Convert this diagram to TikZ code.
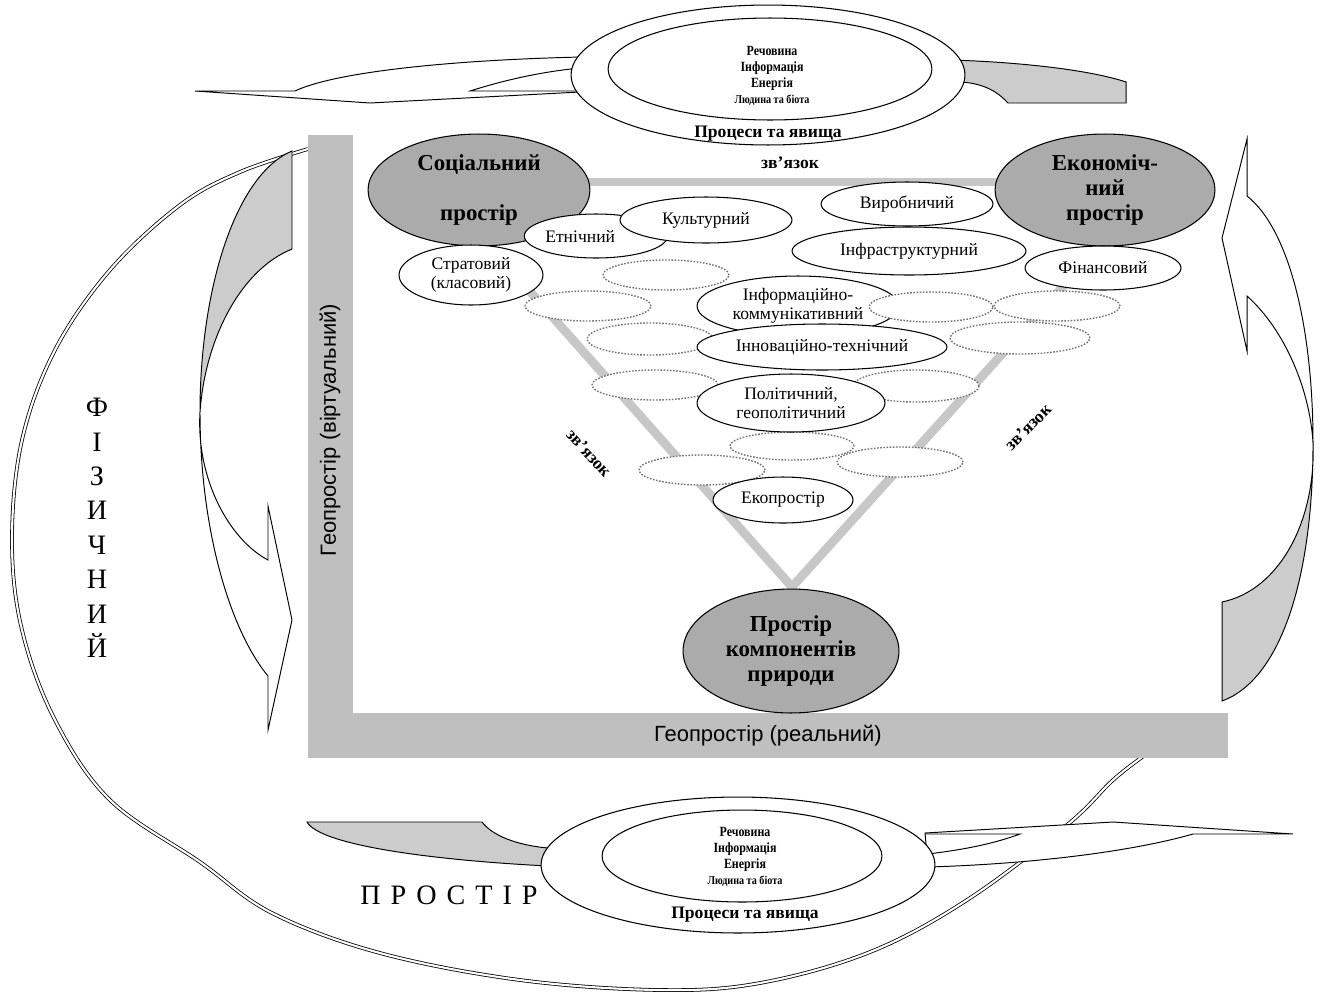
\documentclass[tikz,border=0pt]{standalone}
\usepackage{fontspec}
\setmainfont{Liberation Serif}
\setsansfont{Liberation Sans}
\newfontfamily\condfont[FakeStretch=0.85]{Liberation Serif}
\usetikzlibrary{shapes.geometric}
\newcommand\myfs[2]{\fontsize{#1}{#2}\selectfont}
\tikzset{
  sz/.style 2 args={minimum width=#1*0.04cm, minimum height=#2*0.04cm},
  solidell/.style={ellipse, draw=black, fill=white, line width=0.6pt, inner sep=0pt, align=center, font=\myfs{10}{10.5}},
  dotell/.style={ellipse, draw=black!55, fill=white, line width=0.8pt, dash pattern=on 0.9pt off 0.9pt, inner sep=0pt},
  bigell/.style={ellipse, draw=black, fill=black!33, line width=0.6pt, inner sep=0pt, align=center, font=\bfseries\myfs{13}{14.2}},
  linkline/.style={draw=black!22, line width=5pt},
  geobar/.style={fill=black!25, draw=none},
  arr/.style={draw=black, line width=0.55pt, fill=white},
  arrline/.style={draw=black, line width=0.55pt},
  greyarr/.style={draw=black, line width=0.55pt, fill=black!20},
  bigloop/.style={draw=black, double=white, double distance=1.2pt, line width=0.45pt},
  toptxt/.style={align=center, inner sep=0pt, font=\condfont\bfseries\myfs{8}{9.2}},
  proc/.style={inner sep=0pt, font=\bfseries\myfs{10}{11}},
  link/.style={inner sep=0pt, font=\bfseries\myfs{10}{11}},
  geolbl/.style={inner sep=0pt, font=\sffamily\myfs{12.5}{14}},
  bigletters/.style={inner sep=0pt, align=center, font=\myfs{16}{19.6}},
}
\begin{document}
\begin{tikzpicture}[x=0.02cm, y=-0.02cm]
\useasboundingbox (0,0) rectangle (1324,994);
\fill[white] (0,0) rectangle (1324,994);

% big outer loop
\draw[bigloop] plot[smooth, tension=0.6] coordinates {(308,149) (240,172) (180,205) (110,270) (55,350) (22,440) (12,540) (22,630) (55,720) (110,800) (200,862) (272,913) (380,953) (520,980) (660,990) (760,983) (870,952) (967,900) (1067,825) (1113,780) (1145,755)};

% top arrows
\filldraw[arr] (582,57) .. controls (450,60) and (335,72) .. (295,91) -- (195,91) -- (370,103) -- (580,92) -- cycle;
\draw[arrline] (578,91) -- (470,91) .. controls (505,80) and (540,72) .. (580,68);
\filldraw[greyarr] (950,60) .. controls (1020,62) and (1090,70) .. (1126,82) -- (1126,103) -- (1008,103) .. controls (998,92) and (985,84) .. (962,82) -- cycle;

% bottom arrows
\filldraw[greyarr] (307,822) -- (482,822) .. controls (492,835) and (515,845) .. (548,848) -- (548,866) .. controls (430,860) and (320,845) .. (307,822) -- cycle;
\filldraw[arr] (925,833) -- (1113,822) -- (1293,834) -- (1193,834) .. controls (1130,852) and (1030,864) .. (928,867) -- cycle;
\draw[arrline] (925,834) -- (1020,834) .. controls (990,845) and (960,850) .. (928,854);

% top ellipse
\node[solidell, sz={197}{70}] (topO) at (768,75) {};
\node[solidell, sz={162}{51}] (topI) at (770,69) {};
\node[toptxt] (topT) at (772,76) {Речовина\\Інформація\\Енергія\\{\myfs{6.8}{8}Людина та біота}};
\node[proc] (topP) at (768,134) {Процеси та явища};

% bottom ellipse
\node[solidell, sz={197}{68}] (botO) at (738,865) {};
\node[solidell, sz={140}{46}] (botI) at (742,856) {};
\node[toptxt] (botT) at (745,857) {Речовина\\Інформація\\Енергія\\{\myfs{6.8}{8}Людина та біота}};
\node[proc] (botP) at (745,915) {Процеси та явища};

% left curved arrow
\filldraw[greyarr] (292,151) .. controls (235,175) and (200,290) .. (200,412) .. controls (205,340) and (240,270) .. (292,249) -- cycle;
\filldraw[arr] (200,412) .. controls (200,530) and (230,630) .. (268,676) -- (268,730) -- (292,620) -- (268,506) -- (268,560) .. controls (230,540) and (196,480) .. (200,412) -- cycle;

% right curved arrow
\filldraw[arr] (1313,443) .. controls (1313,330) and (1290,230) .. (1247,196) -- (1247,139) -- (1222,238) -- (1247,351) -- (1247,296) .. controls (1285,330) and (1310,390) .. (1313,443) -- cycle;
\filldraw[greyarr] (1313,443) .. controls (1313,580) and (1280,680) .. (1222,701) -- (1222,602) .. controls (1280,590) and (1316,520) .. (1313,443) -- cycle;

% L-shaped geospace bar
\fill[geobar] (308,135) rectangle (353,758);
\fill[geobar] (308,713) rectangle (1228,758);
\node[geolbl, rotate=90] (gv) at (330,430) {Геопростір (віртуальний)};
\node[geolbl] (gr) at (768,736) {Геопростір (реальний)};

% side words
\node[bigletters] (fiz) at (97,528) {Ф\\І\\З\\И\\Ч\\Н\\И\\Й};
\node[inner sep=0pt, font=\myfs{16}{18}] (prost) at (449,895) {\spaceskip=5.7pt П Р О С Т І Р};

% link lines
\coordinate (lt) at (440,190);
\coordinate (rt) at (1150,190);
\coordinate (vtx) at (792,587);
\coordinate (hl) at (480,182);
\coordinate (hr) at (1105,182);
\draw[linkline] (hl) -- (hr);
\draw[linkline, line join=miter] (lt) -- (vtx) -- (rt);
\node[link] (zt) at (790,163) {зв’язок};
\node[link, rotate=-48] (zl) at (589,453) {зв’язок};
\node[link, rotate=45] (zr) at (1028,427) {зв’язок};

% big spaces
\node[bigell, sz={111}{56}, font=\bfseries\myfs{13}{29}] (soc) at (479,190) {Соціальний\\простір};
\node[bigell, sz={110}{56}] (eco) at (1105,190) {Економіч-\\ний\\простір};
\node[bigell, sz={108}{62}] (nat) at (791,651) {Простір\\компонентів\\природи};

% dotted (unnamed sub-spaces)
\node[dotell, sz={63}{15}] (d1) at (666,275) {};
\node[dotell, sz={63}{15}] (d2) at (588,306) {};
\node[dotell, sz={63}{16}] (d3) at (650,339) {};
\node[dotell, sz={63}{15}] (d4) at (655,385) {};
\node[dotell, sz={70}{16}] (d5) at (1020,338) {};
\node[dotell, sz={63}{15}] (d6) at (1057,306) {};
\node[dotell, sz={63}{16}] (d7) at (916,386) {};
\node[dotell, sz={62}{14}] (d8) at (792,446) {};
\node[dotell, sz={63}{15}] (d9) at (702,470) {};
\node[dotell, sz={63}{15}] (d10) at (900,462) {};

% solid sub-spaces
\node[solidell, sz={69}{22}] (etn) at (596,236) {Етнічний\hspace*{18pt}};
\node[solidell, sz={86}{23}] (kul) at (706,220) {Культурний};
\node[solidell, sz={72}{30}] (str) at (471,275) {Стратовий\\(класовий)};
\node[solidell, sz={86}{22}] (vyr) at (907,204) {Виробничий};
\node[solidell, sz={117}{24}] (inf) at (909,251) {Інфраструктурний};
\node[solidell, sz={78}{22}] (fin) at (1103,268) {Фінансовий};
\node[solidell, sz={101}{30}] (ikt) at (798,306) {Інформаційно-\\коммунікативний};
\node[dotell, sz={62}{15}] (d11) at (931,307) {};
\node[solidell, sz={125}{23}] (int) at (822,347) {Інноваційно-технічний};
\node[solidell, sz={94}{29}] (pol) at (791,403) {Політичний,\\геополітичний};
\node[solidell, sz={70}{23}] (eko) at (783,500) {Екопростір};
\end{tikzpicture}
\end{document}
